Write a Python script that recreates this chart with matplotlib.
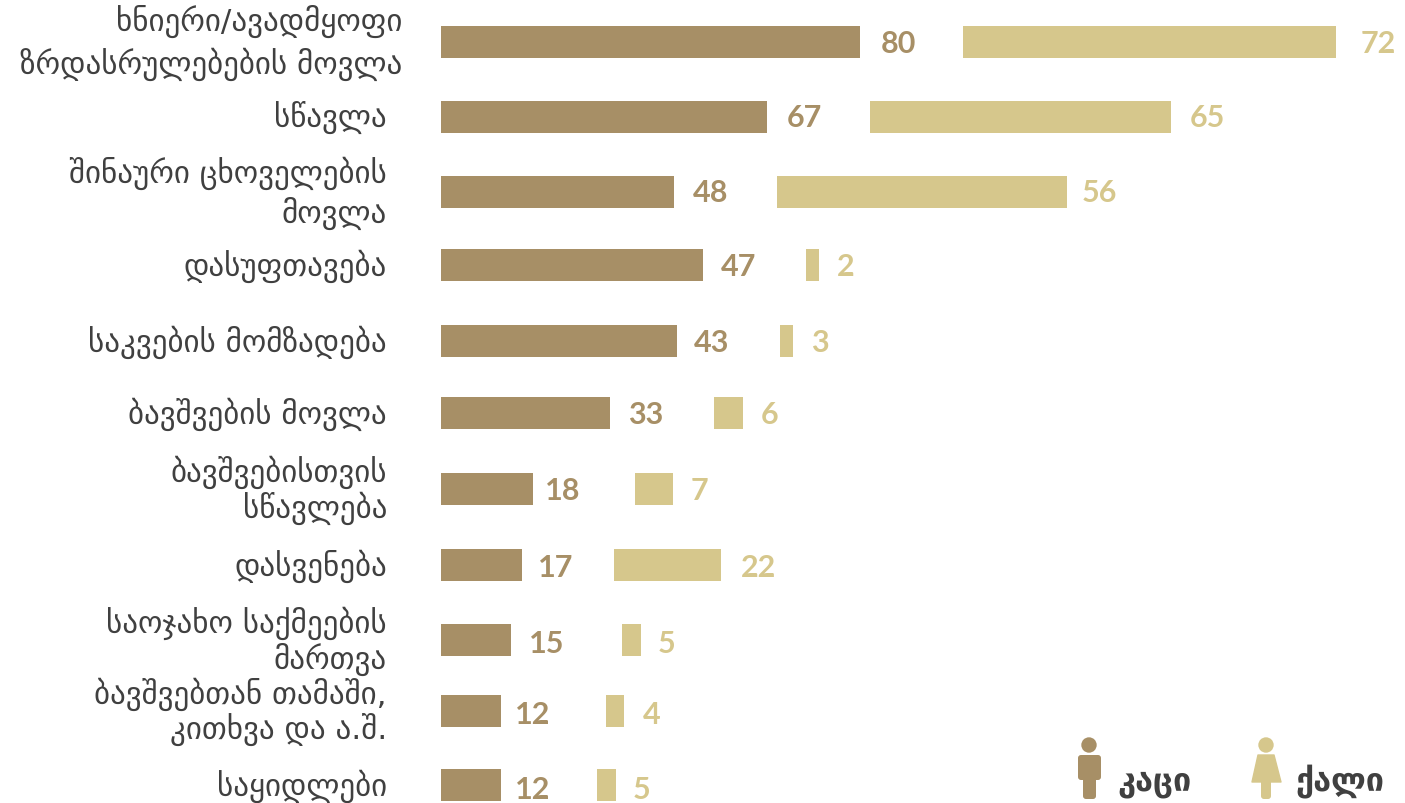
"""plot.py — horizontal paired bars, men vs women, time use by activity."""

import matplotlib
matplotlib.use("Agg")
import matplotlib.pyplot as plt
from matplotlib.patches import Circle, FancyBboxPatch, Polygon

# ── data ───────────────────────────────────────────────────────────────────────
categories = [
    "ხნიერი/ავადმყოფი\nზრდასრულებების მოვლა",
    "სწავლა",
    "შინაური ცხოველების\nმოვლა",
    "დასუფთავება",
    "საკვების მომზადება",
    "ბავშვების მოვლა",
    "ბავშვებისთვის\nსწავლება",
    "დასვენება",
    "საოჯახო საქმეების\nმართვა",
    "ბავშვებთან თამაში,\nკითხვა და ა.შ.",
    "საყიდლები",
]
# printed values
men_labels = [80, 67, 48, 47, 43, 33, 18, 17, 15, 12, 12]
women_labels = [72, 65, 56, 2, 3, 6, 7, 22, 5, 4, 5]
# drawn bar lengths, the source bars do not follow their printed values exactly
men_bars = [80, 62.4, 44.5, 50, 45.2, 32.4, 17.6, 15.5, 13.4, 11.5, 11.5]
women_bars = [71.2, 57.6, 55.3, 2.5, 2.5, 5.5, 7.3, 20.4, 3.6, 3.6, 3.6]
# empty space between the two bars of a row
gaps = [19.7, 19.5, 19.8, 19.8, 19.5, 19.8, 19.5, 17.7, 21.2, 20.0, 18.3]

# rows are hand placed in the source
rows = [42, 117, 192, 265, 341, 413, 489, 565, 640, 711, 785]
# same for the numbers: px from bar end, px below bar centre
men_pads = [21, 19, 19, 18, 17, 18, 12, 16, 18, 14, 14]
women_pads = [25, 18, 14, 18, 18, 18, 17, 20, 17, 18, 17]
num_nudge = [1, 0, 0, 1, 1, 1, 1, 2, 3, 3, 4]

# ── style ──────────────────────────────────────────────────────────────────────
MEN_COLOR = "#A78F66"
WOMEN_COLOR = "#D6C78C"
TEXT_COLOR = "#404040"
GEO_FONT = ["DejaVu Sans"]
NUM_FONT = ["Lato", "DejaVu Sans"]
W, H = 1405, 804
PX_PER_UNIT = 5.24
ORIGIN = 440.5

fig = plt.figure(figsize=(W / 100, H / 100), dpi=100)
ax = fig.add_axes([0, 0, 1, 1])
ax.set_xlim(-ORIGIN / PX_PER_UNIT, (W - ORIGIN) / PX_PER_UNIT)
ax.set_ylim(H - 1, -1)
ax.axis("off")

# ── bars ───────────────────────────────────────────────────────────────────────
women_left = [m + g for m, g in zip(men_bars, gaps)]
ax.barh(rows, men_bars, height=32, color=MEN_COLOR)
ax.barh(rows, women_bars, left=women_left, height=32, color=WOMEN_COLOR)

for i, y in enumerate(rows):
    dy = -num_nudge[i] * 0.72
    ax.annotate(str(men_labels[i]), (men_bars[i], y),
                xytext=(men_pads[i] * 0.72, dy), textcoords="offset points",
                va="center", ha="left", fontsize=22, fontweight="bold",
                color=MEN_COLOR, family=NUM_FONT)
    ax.annotate(str(women_labels[i]), (women_left[i] + women_bars[i], y),
                xytext=(women_pads[i] * 0.72, dy), textcoords="offset points",
                va="center", ha="left", fontsize=22, fontweight="bold",
                color=WOMEN_COLOR, family=NUM_FONT)

# ── category labels ────────────────────────────────────────────────────────────
spacings = [1.37, 1, 1.27, 1, 1, 1, 1.1, 1, 1.1, 1.1, 1]
for i, (y, name, spacing) in enumerate(zip(rows, categories, spacings)):
    right = 402 if i == 0 else 387   # first label sticks out in the source
    ax.text((right - ORIGIN) / PX_PER_UNIT, y, name, ha="right", va="center",
            multialignment="right", fontsize=22.3, color=TEXT_COLOR,
            family=GEO_FONT, linespacing=spacing)

# ── legend (icons in pixel coords) ─────────────────────────────────────────────
lax = fig.add_axes([0, 0, 1, 1])
lax.set_xlim(0, W)
lax.set_ylim(H, 0)
lax.axis("off")
lax.patch.set_alpha(0)


def rounded(x0, y0, x1, y1, color):
    lax.add_patch(FancyBboxPatch((x0 + 3, y0 + 3), x1 - x0 - 6, y1 - y0 - 6,
                                 boxstyle="round,pad=3", fc=color, ec="none"))


# man
lax.add_patch(Circle((1089, 746), 7.7, fc=MEN_COLOR, ec="none"))
rounded(1078, 756, 1101, 781, MEN_COLOR)
rounded(1083, 770, 1096, 800, MEN_COLOR)
# woman
lax.add_patch(Circle((1266, 746), 7.7, fc=WOMEN_COLOR, ec="none"))
lax.add_patch(Polygon([(1258, 756), (1274, 756), (1281, 783), (1252, 783)],
                      fc=WOMEN_COLOR, ec=WOMEN_COLOR, lw=1, joinstyle="round"))
rounded(1261, 775, 1271, 800, WOMEN_COLOR)

lax.text(1117, 790, "კაცი", ha="left", va="baseline", fontsize=23.3,
         fontweight="bold", color=TEXT_COLOR, family=GEO_FONT)
lax.text(1295, 790, "ქალი", ha="left", va="baseline", fontsize=23.3,
         fontweight="bold", color=TEXT_COLOR, family=GEO_FONT)

fig.savefig("out.png", dpi=100)
